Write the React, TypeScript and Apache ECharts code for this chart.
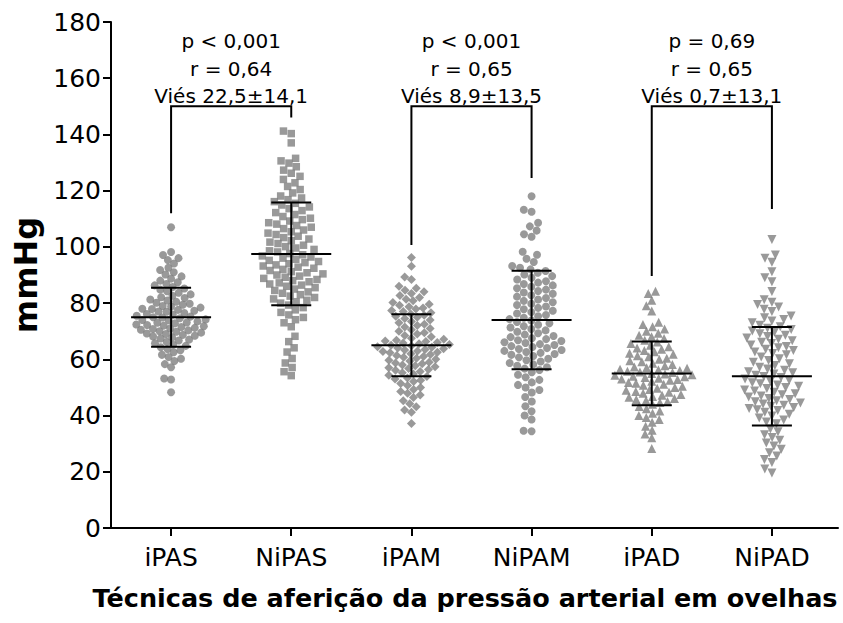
import { useEffect, useRef } from "react";
import * as echarts from "echarts";

const categories = ["iPAS", "NiPAS", "iPAM", "NiPAM", "iPAD", "NiPAD"];
const symbols = ["circle", "rect", "diamond", "circle", "triangle", "triangle"];
const symbolRotations = [0, 0, 0, 0, 0, 180];
const symbolSizes = [8, 7.5, 9, 8, 9, 9];
const swarmSpacing = [7, 8.2, 7.2, 8, 7.6, 8.1];

const iPAS = [
  107, 98.2, 97.1, 96.0, 95.3, 94.1, 92.6, 91.8, 91.0, 90.2, 89.5, 88.7, 88.0, 87.4,
  86.8, 86.3, 85.7, 85.2, 84.8, 84.2, 83.7, 83.1, 82.6, 82.1, 81.8, 81.3,
  80.9, 80.5, 80.1, 79.8, 79.4, 79.0, 78.8, 78.4, 78.0, 77.9, 77.6, 77.3, 77.0,
  76.9, 76.5, 76.1, 75.9, 75.5, 75.2, 75.0,
  74.9, 74.6, 74.2, 74.0, 73.9, 73.5, 73.1, 73.0,
  72.8, 72.4, 72.2, 72.0, 71.8, 71.5, 71.2, 71.0, 70.8, 70.5, 70.3, 70.0,
  69.8, 69.5, 69.2, 69.0, 68.7, 68.4, 68.1, 67.8, 67.4, 67.0, 66.7, 66.2, 65.7, 65.2,
  64.8, 64.3, 63.7, 63.2, 62.5, 61.6, 60.8, 60.2, 59.4, 58.3, 57.2, 53.2, 52.8, 48.3,
];
const NiPAS = [
  141.2, 140.3, 137.0, 131.5, 130.6, 129.8, 128.5, 127.3,
  126.2, 125.1, 124.0, 122.8, 121.5, 120.4, 119.2, 118.1,
  117.4, 116.8, 116.1, 115.5, 114.9, 114.2, 113.6, 112.9, 112.2, 111.5, 110.8, 110.2,
  109.7, 109.2, 108.6, 108.1, 107.6, 107.0, 106.5, 106.0, 105.4, 104.9, 104.4, 103.8,
  103.3, 102.8, 102.2, 101.7, 101.2, 100.6, 100.1, 99.6, 99.1, 98.6, 98.2,
  97.6, 97.2, 96.8, 96.4, 96.0, 95.6, 95.2, 94.8, 94.4, 94.0, 93.6, 93.2, 92.8, 92.4, 92.0,
  91.6, 91.2, 90.8, 90.4, 90.0, 89.6, 89.2, 88.8, 88.4, 88.0, 87.6, 87.2, 86.8, 86.4, 86.0,
  85.5, 85.0, 84.5, 84.0, 83.5, 83.0, 82.5, 82.0, 81.5, 81.0, 80.5, 80.0,
  79.3, 78.4, 77.6, 76.7, 75.8, 74.9, 74.1,
  73.0, 71.6, 68.2, 66.3, 64.1, 62.6, 60.3, 58.7, 57.1, 55.6, 54.2,
];
const iPAM = [
  96.2, 93.1, 89.3, 88.4,
  86.0, 85.3, 84.6, 84.0, 83.4, 82.7, 82.0, 81.4, 80.8, 80.2,
  79.6, 79.2, 78.7, 78.3, 77.9, 77.4, 77.0, 76.6, 76.1, 75.7, 75.3, 75.0,
  74.5, 74.0, 73.5, 73.0, 72.5, 72.0, 71.5, 71.0, 70.5, 70.0, 69.5, 69.0, 68.5, 68.0, 67.5, 67.1,
  66.8, 66.5, 66.3, 66.0, 65.8, 65.5, 65.3, 65.0, 64.8, 64.5, 64.3, 64.0, 63.8, 63.5, 63.3, 63.0,
  62.8, 62.5, 62.3, 62.0,
  61.7, 61.4, 61.0, 60.7, 60.4, 60.0, 59.7, 59.4, 59.0, 58.7, 58.4, 58.0, 57.7, 57.4, 57.0, 56.7,
  56.4, 56.1,
  55.7, 55.2, 54.8, 54.3, 53.9, 53.4, 53.0, 52.6,
  52.1, 51.4, 50.7, 50.0, 49.3, 48.6, 47.9, 47.3,
  46.4, 45.3, 44.2, 43.1, 42.0, 41.2, 37.2,
];
const NiPAM = [
  118.0, 113.2, 112.5, 108.6, 107.3, 105.8, 104.5, 103.6,
  98.3, 97.2, 95.8, 94.6,
  93.2, 92.6, 92.0, 91.4, 90.8, 90.2, 89.6, 89.0, 88.4,
  87.8, 87.3, 86.8, 86.3, 85.8, 85.3, 84.8, 84.3, 83.8, 83.3, 82.8, 82.3, 81.8, 81.3,
  80.8, 80.3, 79.8, 79.3, 78.8, 78.3, 77.8, 77.3, 76.8, 76.3, 75.8, 75.3, 74.8, 74.3,
  73.8, 73.3, 72.8, 72.3, 71.8, 71.3, 70.8, 70.3, 69.8, 69.3, 68.8, 68.3,
  67.9, 67.5, 67.2, 66.8, 66.5, 66.1, 65.8, 65.4, 65.1, 64.7, 64.4, 64.0, 63.7, 63.3,
  63.0, 62.6, 62.3, 61.9, 61.6, 61.2,
  60.7, 60.2, 59.7, 59.2, 58.7, 58.2, 57.7, 57.2, 56.7, 56.2,
  55.4, 54.5, 53.6, 52.7, 51.8, 50.9, 50.0, 49.1, 48.2,
  46.6, 45.0, 43.3, 41.5, 40.0, 38.6, 34.6, 34.4,
];
const iPAD = [
  84.2, 83.4, 81.0, 79.1, 77.2,
  73.2, 72.4, 71.6, 70.8, 70.0, 69.3,
  68.6, 68.0, 67.4, 66.8, 66.2, 65.6, 65.0, 64.5,
  64.0, 63.6, 63.1, 62.7, 62.2, 61.8, 61.3, 60.9, 60.4, 60.0, 59.5, 59.1, 58.6, 58.2, 57.7, 57.3, 57.0,
  56.8, 56.5, 56.3, 56.0, 55.8, 55.5, 55.3, 55.0, 54.8, 54.5, 54.3, 54.0, 53.8, 53.5, 53.3, 53.0,
  52.8, 52.6,
  52.2, 51.8, 51.5, 51.1, 50.8, 50.4, 50.0, 49.7, 49.3, 49.0, 48.6, 48.3, 47.9, 47.5, 47.2,
  46.8, 46.5, 46.1, 45.7, 45.4, 45.0, 44.6,
  44.0, 43.2, 42.4, 41.6, 40.8, 40.0, 39.3, 38.6,
  37.6, 36.2, 34.8, 33.4, 32.1, 28.3,
];
const NiPAD = [
  102.6, 97.1, 96.0, 94.5, 91.2, 89.0, 87.6, 84.1,
  81.2, 80.3, 79.5, 78.6, 77.8, 77.0,
  75.4, 74.8, 74.2, 73.6, 73.0,
  72.1, 71.6, 71.1, 70.6, 70.1, 69.6, 69.1, 68.6, 68.1, 67.6, 67.1, 66.6, 66.1, 65.6, 65.1,
  64.6, 64.1, 63.6, 63.1, 62.6, 62.1, 61.6,
  60.8, 60.2, 59.6, 59.0, 58.4, 57.8, 57.2, 56.6, 56.1,
  55.6, 55.2, 54.8, 54.3, 53.9, 53.5, 53.0, 52.6, 52.2, 51.7, 51.3, 50.9, 50.4, 50.0,
  49.6, 49.1, 48.7, 48.3, 47.8, 47.4, 47.0, 46.6,
  46.1, 45.7, 45.3, 44.9, 44.5, 44.1, 43.7, 43.3, 42.9, 42.5, 42.1, 41.8,
  41.2, 40.5, 39.8, 39.1, 38.4, 37.7, 37.1,
  35.2, 34.2, 33.2, 32.2, 31.2, 30.2, 29.2,
  28.0, 26.8, 25.6, 24.4, 23.3, 21.0, 19.6,
];
const groups = [iPAS, NiPAS, iPAM, NiPAM, iPAD, NiPAD];

const means = [75, 97.5, 65, 74, 55, 54];
const sds = [10.5, 18.3, 11, 17.5, 11.3, 17.5];

const bracketPairs = [[1, 2], [3, 4], [5, 6]];
const bracketTop = 150;
const bracketLegEnds = [[112, 146], [100.7, 124.5], [89.6, 113.5]];
const pTexts = ["p < 0,001", "p < 0,001", "p = 0,69"];
const rTexts = ["r = 0,64", "r = 0,65", "r = 0,65"];
const biasTexts = ["Viés 22,5±14,1", "Viés 8,9±13,5", "Viés 0,7±13,1"];

const W = 843;
const H = 623;
const GRID = { left: 111, right: 5, top: 22, bottom: 95 };
const X_MIN = 0.5;
const X_MAX = 6.55;
const Y_MIN = 0;
const Y_MAX = 180;
const FONT = "DejaVu Sans";

function swarmOffsets(values: number[], d: number, yScale: number): number[] {
  const order = values.map((_, i) => i).sort((a, b) => values[a] - values[b]);
  const placed: { x: number; y: number }[] = [];
  const out: number[] = new Array(values.length).fill(0);
  for (const i of order) {
    const y = values[i] * yScale;
    const intervals: [number, number][] = [];
    for (const p of placed) {
      const dy = Math.abs(p.y - y);
      if (dy < d) {
        const h = Math.sqrt(d * d - dy * dy);
        intervals.push([p.x - h, p.x + h]);
      }
    }
    const cands: number[] = [0];
    intervals.forEach(([a, b]) => cands.push(a, b));
    cands.sort((a, b) => Math.abs(a) - Math.abs(b));
    let x = 0;
    for (const c of cands) {
      if (intervals.every(([a, b]) => c <= a + 1e-6 || c >= b - 1e-6)) {
        x = c;
        break;
      }
    }
    placed.push({ x, y });
    out[i] = x;
  }
  return out;
}

export default function App() {
  const ref = useRef<HTMLDivElement>(null);
  useEffect(() => {
    if (!ref.current) return;
    const chart = echarts.init(ref.current, undefined, { renderer: "svg" });
    const xScale = (W - GRID.left - GRID.right) / (X_MAX - X_MIN);
    const yScale = (H - GRID.top - GRID.bottom) / (Y_MAX - Y_MIN);

    const scatterSeries = groups.map((vals, gi) => {
      const offs = swarmOffsets(vals, swarmSpacing[gi], yScale);
      return {
        type: "scatter",
        name: categories[gi],
        symbol: symbols[gi],
        symbolRotate: symbolRotations[gi],
        symbolSize: symbolSizes[gi],
        itemStyle: { color: "#808080" },
        silent: true,
        z: 2,
        data: vals.map((v, i) => [gi + 1 + offs[i] / xScale, v]),
      };
    });

    const errorSeries = {
      type: "custom",
      silent: true,
      z: 5,
      data: means.map((m, i) => [i + 1, m, sds[i]]),
      renderItem: (_p: any, api: any) => {
        const x = api.value(0);
        const m = api.value(1);
        const s = api.value(2);
        const c = api.coord([x, m]);
        const t = api.coord([x, m + s]);
        const b = api.coord([x, m - s]);
        const st = { stroke: "#000", lineWidth: 2 };
        return {
          type: "group",
          children: [
            { type: "line", shape: { x1: c[0] - 40, y1: c[1], x2: c[0] + 40, y2: c[1] }, style: st },
            { type: "line", shape: { x1: c[0], y1: t[1], x2: c[0], y2: b[1] }, style: st },
            { type: "line", shape: { x1: c[0] - 20, y1: t[1], x2: c[0] + 20, y2: t[1] }, style: st },
            { type: "line", shape: { x1: c[0] - 20, y1: b[1], x2: c[0] + 20, y2: b[1] }, style: st },
          ],
        };
      },
    };

    const bracketSeries = {
      type: "custom",
      silent: true,
      z: 6,
      clip: false,
      data: bracketPairs.map((p, i) => [p[0], p[1], bracketTop, bracketLegEnds[i][0], bracketLegEnds[i][1], i]),
      renderItem: (_p: any, api: any) => {
        const x1 = api.value(0);
        const x2 = api.value(1);
        const top = api.value(2);
        const l1 = api.value(3);
        const l2 = api.value(4);
        const idx = api.value(5);
        const a = api.coord([x1, l1]);
        const b = api.coord([x1, top]);
        const c = api.coord([x2, top]);
        const d = api.coord([x2, l2]);
        const mid = (b[0] + c[0]) / 2;
        const ts = (text: string, y: number) => ({
          type: "text",
          style: {
            text,
            x: mid,
            y,
            align: "center",
            verticalAlign: "middle",
            fontSize: 20,
            fontFamily: FONT,
            fill: "#000",
          },
        });
        return {
          type: "group",
          children: [
            {
              type: "polyline",
              shape: { points: [a, b, c, d] },
              style: { stroke: "#000", lineWidth: 2, fill: null },
            },
            ts(pTexts[idx], b[1] - 65),
            ts(rTexts[idx], b[1] - 37.5),
            ts(biasTexts[idx], b[1] - 10.5),
          ],
        };
      },
    };

    chart.setOption({
      animation: false,
      grid: GRID,
      xAxis: {
        type: "value",
        min: X_MIN,
        max: X_MAX,
        name: "Técnicas de aferição da pressão arterial em ovelhas",
        nameLocation: "middle",
        nameGap: 57,
        nameTextStyle: {
          fontSize: 25.5,
          fontWeight: "bold",
          fontFamily: FONT,
          color: "#000",
          padding: [0, 19, 0, 0],
        },
        axisLine: { show: true, lineStyle: { color: "#000", width: 2 } },
        axisTick: { show: true, length: 8, lineStyle: { color: "#000", width: 2 }, customValues: [1, 2, 3, 4, 5, 6] },
        axisLabel: {
          customValues: [1, 2, 3, 4, 5, 6],
          formatter: (v: number) => categories[Math.round(v) - 1] ?? "",
          fontSize: 25,
          fontFamily: FONT,
          color: "#000",
          margin: 17,
        },
        splitLine: { show: false },
      },
      yAxis: {
        type: "value",
        min: Y_MIN,
        max: Y_MAX,
        interval: 20,
        name: "mmHg",
        nameLocation: "middle",
        nameGap: 66,
        nameRotate: 90,
        nameTextStyle: { fontSize: 32, fontWeight: "bold", fontFamily: FONT, color: "#000" },
        axisLine: { show: true, lineStyle: { color: "#000", width: 2 } },
        axisTick: { show: true, length: 8, lineStyle: { color: "#000", width: 2 } },
        axisLabel: { fontSize: 25, fontFamily: FONT, color: "#000", margin: 10 },
        splitLine: { show: false },
      },
      series: [...scatterSeries, errorSeries, bracketSeries],
    });
    return () => chart.dispose();
  }, []);
  return (
    <div
      ref={ref}
      style={{ position: "absolute", left: 0, top: 0, width: W + "px", height: H + "px", background: "#fff" }}
    />
  );
}
